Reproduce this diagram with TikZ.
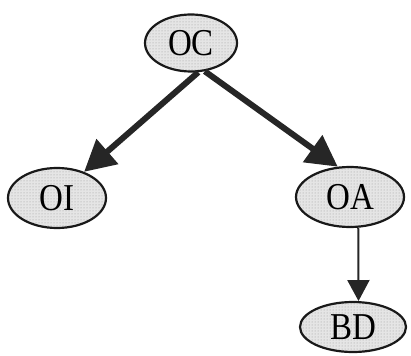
\documentclass[tikz,border=0pt]{standalone}
\usepackage{fontspec}
\setmainfont{Liberation Serif}
\usetikzlibrary{shapes.geometric,arrows.meta,patterns}
\begin{document}
\begin{tikzpicture}[x=1pt,y=-1pt,
  state/.style={ellipse,draw=black!90,line width=2.2pt,inner sep=0pt,
    preaction={fill=black!10},pattern=dots,pattern color=black!40,
    font=\fontsize{33}{33}\selectfont},
  bigarrow/.style={line width=6pt,-{Triangle[length=31pt,width=32pt]},draw=black!85},
  smallarrow/.style={line width=2pt,-{Triangle[length=21pt,width=22pt]},draw=black!85}]
\useasboundingbox (0,0) rectangle (411,355);
\node[state,minimum width=92pt,minimum height=57pt] (oc) at (191,43) {\scalebox{1}[1.15]{OC}};
\node[state,minimum width=98pt,minimum height=60pt] (oi) at (57,198) {\scalebox{1}[1.15]{OI}};
\node[state,minimum width=108pt,minimum height=60pt] (oa) at (350,197) {\scalebox{1}[1.15]{OA}};
\node[state,minimum width=106pt,minimum height=50pt] (bd) at (353,327) {\scalebox{1}[1.15]{BD}};
% connectors
\draw[bigarrow] (oc.-76) -- (oi.44);
\draw[bigarrow] (oc.-64) -- (oa.112);
\draw[smallarrow] (oa.-75) -- (bd.78);
\end{tikzpicture}
\end{document}
